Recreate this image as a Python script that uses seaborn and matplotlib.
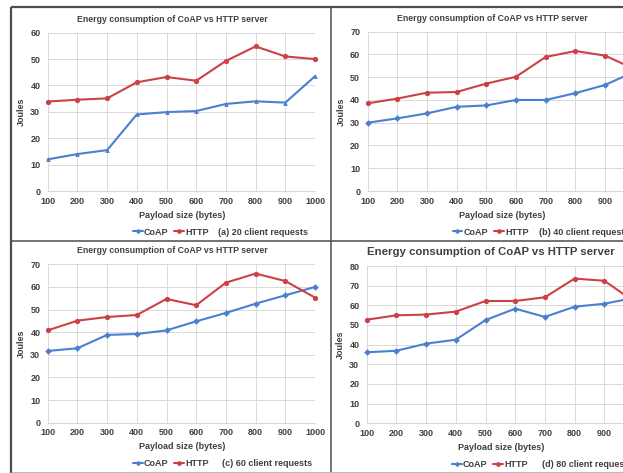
import matplotlib
matplotlib.use("Agg")
import matplotlib.pyplot as plt
from matplotlib.lines import Line2D
import seaborn as sns
import pandas as pd

payload = [100, 200, 300, 400, 500, 600, 700, 800, 900, 1000]

coap_a = [12.0, 14.0, 15.5, 29.0, 29.9, 30.3, 33.0, 34.0, 33.5, 43.5]
http_a = [33.9, 34.6, 35.1, 41.2, 43.2, 41.8, 49.3, 54.8, 51.0, 50.0]
coap_b = [30.0, 31.9, 34.1, 37.0, 37.6, 40.0, 40.0, 43.0, 46.6, 52.5]
http_b = [38.5, 40.6, 43.2, 43.5, 47.2, 50.2, 58.9, 61.5, 59.5, 53.5]
coap_c = [31.7, 32.9, 38.8, 39.2, 40.8, 44.8, 48.5, 52.6, 56.3, 60.0]
http_c = [40.8, 45.1, 46.7, 47.6, 54.7, 51.9, 61.9, 65.9, 62.6, 55.3]
coap_d = [36.1, 36.9, 40.5, 42.5, 52.5, 58.3, 54.1, 59.3, 60.8, 63.8]
http_d = [52.7, 54.9, 55.3, 56.8, 62.2, 62.2, 64.1, 73.6, 72.5, 62.0]

series_names = ["CoAP", "HTTP"]
captions = ["(a) 20 client requests", "(b) 40 client requests",
            "(c) 60 client requests", "(d) 80 client requests"]
y_max = [60, 70, 70, 80]
title_text = "Energy consumption of CoAP vs HTTP server"
xlabel_text = "Payload size (bytes)"
ylabel_text = "Joules"

sns.set_theme(style="white")
plt.rcParams["font.family"] = ["Liberation Sans", "DejaVu Sans"]

BLUE = "#4A80CF"
RED = "#CC4146"
TXT = "#404040"
GRID = "#D9D9D9"

fig = plt.figure(figsize=(6.23, 4.73), dpi=100)
W, H = 623.0, 473.0

# axes rectangles in pixels: (left, top, right, bottom)
rects = [
    (47.7, 32.7, 315.0, 191.0),
    (367.5, 31.7, 634.8, 191.0),
    (47.7, 264.3, 315.0, 422.7),
    (366.7, 266.0, 634.0, 423.3),
]
data = [(coap_a, http_a), (coap_b, http_b), (coap_c, http_c), (coap_d, http_d)]
coap_markers = ["^", "D", "D", "D"]
title_sizes = [6.3, 6.3, 6.3, 8.2]

for i, (rect, (c, h)) in enumerate(zip(rects, data)):
    l, t, r, b = rect
    ax = fig.add_axes([l / W, 1 - b / H, (r - l) / W, (b - t) / H])
    df = pd.DataFrame({
        "payload": payload * 2,
        "joules": list(c) + list(h),
        "series": [series_names[0]] * len(c) + [series_names[1]] * len(h),
    })
    sns.lineplot(data=df[df.series == "CoAP"], x="payload", y="joules", ax=ax,
                 color=BLUE, marker=coap_markers[i], markersize=3.4,
                 markeredgewidth=0, linewidth=1.5, clip_on=False, legend=False)
    sns.lineplot(data=df[df.series == "HTTP"], x="payload", y="joules", ax=ax,
                 color=RED, marker="o", markersize=3.8,
                 markeredgewidth=0, linewidth=1.5, clip_on=False, legend=False)
    ax.set_xlim(100, 1000)
    ax.set_ylim(0, y_max[i])
    ax.set_xticks(payload)
    ax.set_yticks(range(0, y_max[i] + 1, 10))
    ax.grid(True, color=GRID, linewidth=0.7)
    ax.set_axisbelow(True)
    for s in ax.spines.values():
        s.set_visible(False)
    ax.spines["bottom"].set_visible(True)
    ax.spines["bottom"].set_color(GRID)
    ax.spines["bottom"].set_linewidth(0.8)
    ax.tick_params(axis="both", length=0, labelsize=6.5, labelcolor=TXT)
    ax.tick_params(axis="x", pad=4.0)
    ax.tick_params(axis="y", pad=5.3)
    for lab in ax.get_xticklabels() + ax.get_yticklabels():
        lab.set_fontweight("bold")
    ax.set_xlabel("")
    ax.set_ylabel("")
    hpx = b - t
    wpx = r - l
    ax.text(0.466, (b - (t - 13.5 if i < 3 else t - 14)) / hpx, title_text,
            transform=ax.transAxes, ha="center", va="center",
            fontsize=title_sizes[i], color=TXT, fontweight="bold")
    ax.text(0.504, -24 / hpx, xlabel_text, transform=ax.transAxes,
            ha="center", va="center", fontsize=6.5, color=TXT, fontweight="bold")
    ax.text(-26 / wpx, 0.5, ylabel_text, transform=ax.transAxes, rotation=90,
            ha="center", va="center", fontsize=6.5, color=TXT, fontweight="bold")
    handles = [
        Line2D([], [], color=BLUE, marker="D", markersize=2.8, markeredgewidth=0, linewidth=1.5),
        Line2D([], [], color=RED, marker="o", markersize=3.4, markeredgewidth=0, linewidth=1.5),
    ]
    leg = ax.legend(handles, series_names, ncol=2, frameon=False,
                    loc="center left", bbox_to_anchor=(0.318, -41 / hpx),
                    handlelength=1.1, handletextpad=0.15, columnspacing=0.6,
                    borderpad=0, borderaxespad=0,
                    prop={"size": 6.5, "weight": "bold"})
    for txt in leg.get_texts():
        txt.set_color(TXT)
    cap_x = [0.637, 0.643, 0.652, 0.657][i]
    ax.text(cap_x, -41 / hpx, captions[i], transform=ax.transAxes,
            ha="left", va="center", fontsize=6.5, color=TXT, fontweight="bold")

# panel borders
BORDER = "#4D4D4D"
def fline(x0, y0, x1, y1, lw=1.6, color=BORDER):
    fig.add_artist(Line2D([x0 / W, x1 / W], [1 - y0 / H, 1 - y1 / H],
                          color=color, linewidth=lw, solid_capstyle="butt"))

fline(11, 7, 623, 7)
fline(11, 7, 11, 473)
fline(331, 7, 331, 473, lw=1.1)
fline(11, 241, 623, 241, lw=1.1)
fline(11, 472, 623, 472, lw=0.8, color="#BBBBBB")

fig.savefig("out.png", dpi=100)
